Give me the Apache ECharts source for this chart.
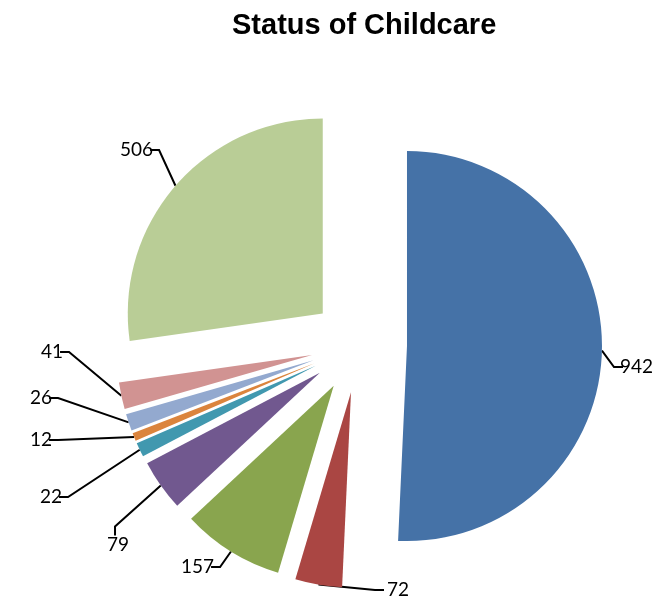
<!DOCTYPE html>
<html>
<head>
<meta charset="utf-8">
<script src="https://cdn.jsdelivr.net/npm/echarts@6/dist/echarts.min.js"></script>
<style>
	html, body { margin: 0; padding: 0; background: #fff; }
	#chart { width: 666px; height: 603px; }
</style>
</head>
<body>
<div id="chart"></div>
<script>
// slice values, clockwise from 12 o'clock
var sliceNames = ['s1', 's2', 's3', 's4', 's5', 's6', 's7', 's8', 's9'];
var sliceValues = [942, 72, 157, 79, 22, 12, 26, 41, 506];
var sliceColors = ['#4572A7', '#AA4643', '#89A54E', '#71588F', '#4198AF', '#DB843D', '#93A9CF', '#D19392', '#B9CD96'];

// where each value label sits (left edge x, middle y), like the excel layout
var labelSpots = [[623, 367], [384, 590], [178, 567], [104, 545], [37, 497], [27, 440], [27, 398], [38, 352], [117, 150]];

var explode = 48;
var labelPad = 3; //gap between leader line and text
var total = sliceValues.reduce(function (a, b) { return a + b; }, 0);

// offset that the selected (exploded) slice is shifted by, labels ride along with it
function sliceShift(i) {
	var before = 0;
	for (var k = 0; k < i; k++) before += sliceValues[k];
	var mid = (before + sliceValues[i] / 2) / total * Math.PI * 2;
	return [Math.sin(mid) * explode, -Math.cos(mid) * explode];
}

var chart = echarts.init(document.getElementById('chart'));

var pieData = sliceValues.map(function (v, i) {
	return {
		name: sliceNames[i],
		value: v,
		selected: true,
		itemStyle: { color: sliceColors[i] }
	};
});

chart.setOption({
	animation: false,
	title: {
		text: 'Status of Childcare',
		left: 227,
		top: 6,
		textStyle: {
			fontFamily: 'Liberation Sans',
			fontWeight: 'bold',
			fontSize: 29,
			color: '#000'
		}
	},
	series: [{
		type: 'pie',
		center: [359, 345],
		radius: 195,
		startAngle: 90,
		clockwise: true,
		selectedMode: 'multiple',
		selectedOffset: explode,
		avoidLabelOverlap: false,
		label: {
			show: true,
			formatter: '{c}',
			fontFamily: 'Lato',
			fontSize: 19,
			color: '#000',
			padding: [0, labelPad]
		},
		labelLine: {
			show: true,
			length: 10,
			length2: 9,
			lineStyle: { color: '#000', width: 2 }
		},
		labelLayout: function (p) {
			var s = labelSpots[p.dataIndex];
			var o = sliceShift(p.dataIndex);
			var r = p.labelRect;
			// default anchor: right edge for labels on the left side
			var ax = r.x + (o[0] < 0 ? r.width : 0);
			var ay = r.y + r.height / 2;
			return {
				x: ax,
				y: ay,
				dx: s[0] - labelPad - o[0] - ax,
				dy: s[1] - o[1] - ay,
				align: 'left',
				verticalAlign: 'middle'
			};
		},
		data: pieData
	}]
});
</script>
</body>
</html>
